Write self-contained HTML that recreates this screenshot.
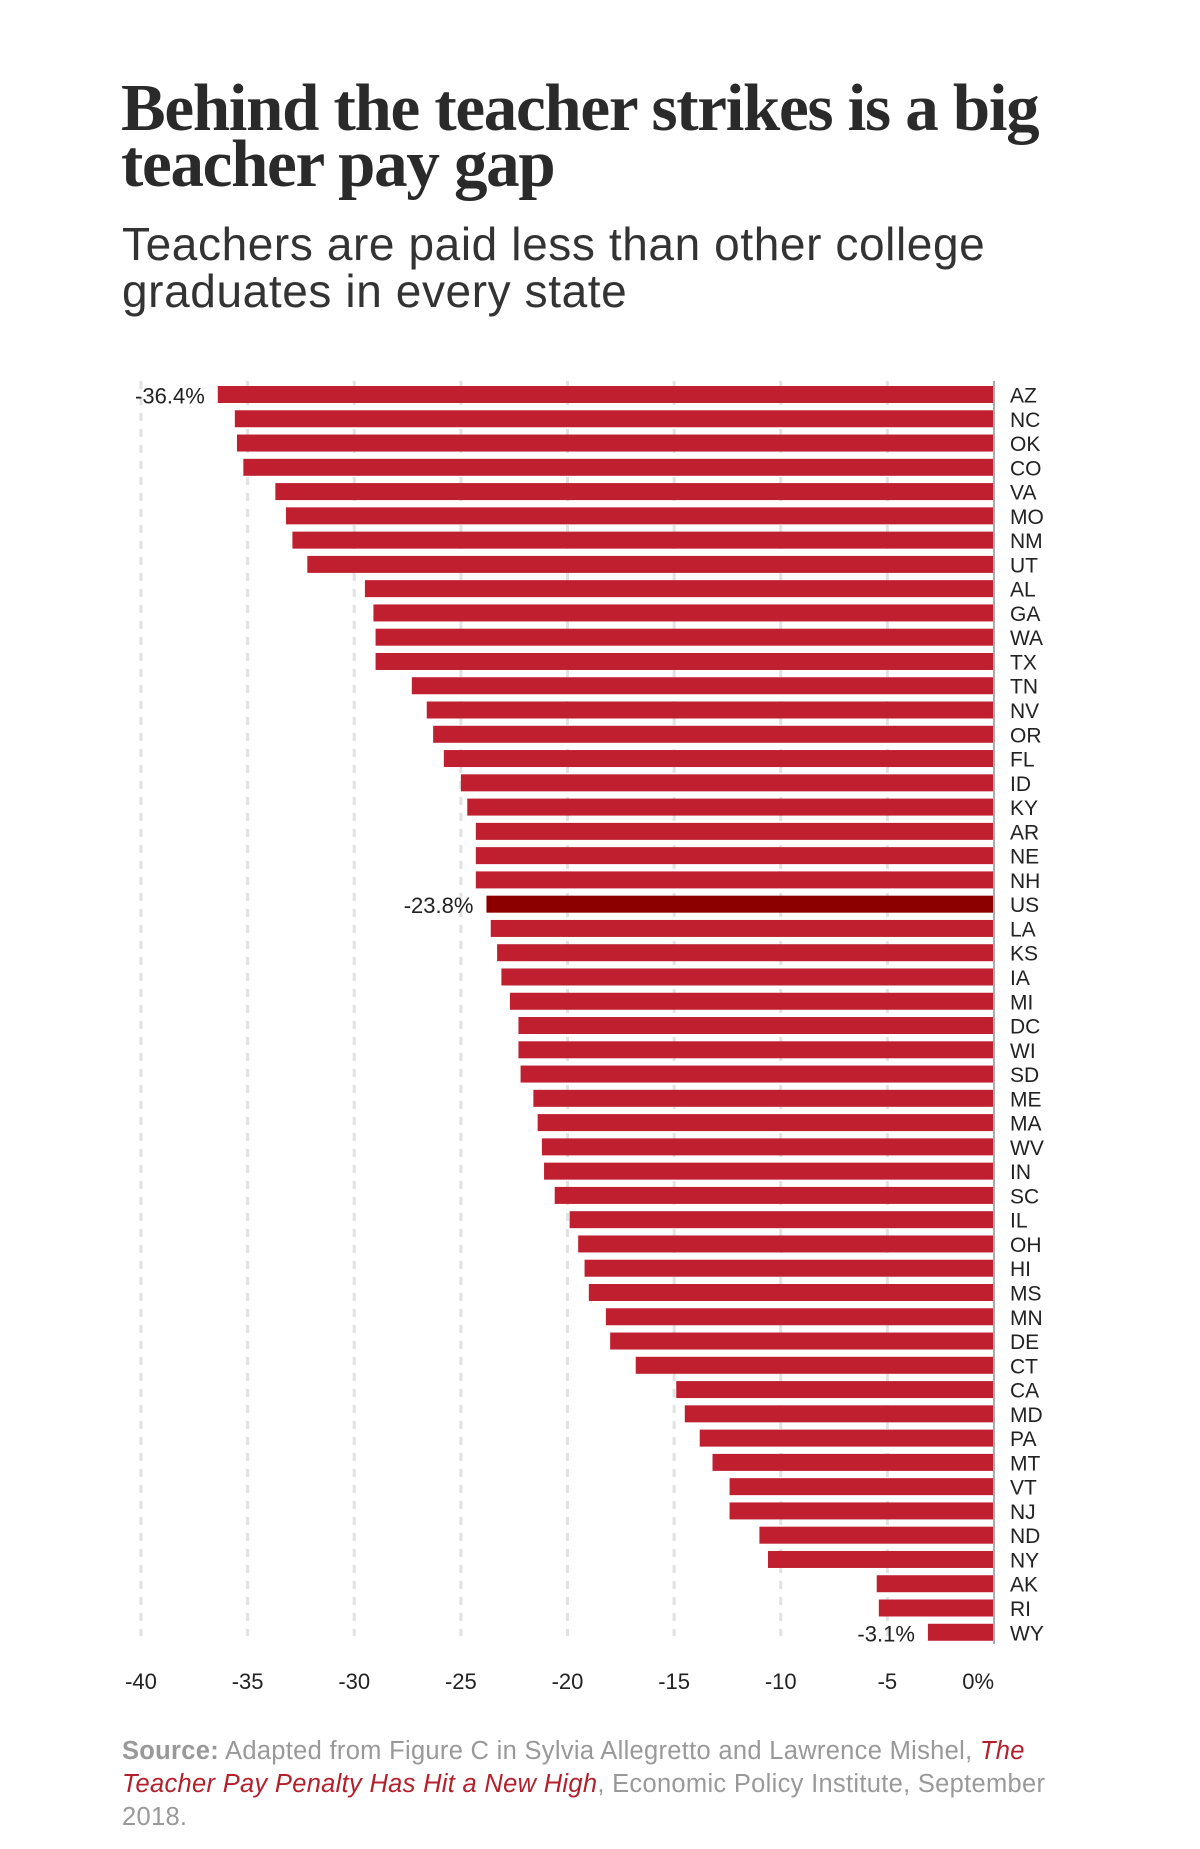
<!DOCTYPE html>
<html><head><meta charset="utf-8">
<style>
body{margin:0;background:#fff;width:1200px;height:1849px;overflow:hidden;font-family:"Liberation Sans",sans-serif}
#title{position:absolute;left:121px;top:80px;margin:0;font-family:"Liberation Serif",serif;font-weight:bold;font-size:67px;line-height:56px;color:#2a2a2a;letter-spacing:-1.3px;white-space:nowrap}
#subtitle{position:absolute;left:122px;top:221px;margin:0;font-size:46px;line-height:47px;color:#333;font-weight:normal;letter-spacing:0.6px;white-space:nowrap}
#source{position:absolute;left:122px;top:1735px;font-size:25.5px;line-height:33px;color:#999;white-space:nowrap;letter-spacing:0.3px}
#source b{color:#999}
#source i{color:#b3202c}
</style></head><body>
<h1 id="title">Behind the teacher strikes is a big<br>teacher pay gap</h1>
<h2 id="subtitle">Teachers are paid less than other college<br>graduates in every state</h2>
<svg id="chart" width="1200" height="1849" style="position:absolute;left:0;top:0"></svg>
<div id="source"><b>Source:</b> Adapted from Figure C in Sylvia Allegretto and Lawrence Mishel, <i>The<br>Teacher Pay Penalty Has Hit a New High</i>, Economic Policy Institute, September<br>2018.</div>
<script>
const states=["AZ","NC","OK","CO","VA","MO","NM","UT","AL","GA","WA","TX","TN","NV","OR","FL","ID","KY","AR","NE","NH","US","LA","KS","IA","MI","DC","WI","SD","ME","MA","WV","IN","SC","IL","OH","HI","MS","MN","DE","CT","CA","MD","PA","MT","VT","NJ","ND","NY","AK","RI","WY"];
const values=[-36.4,-35.6,-35.5,-35.2,-33.7,-33.2,-32.9,-32.2,-29.5,-29.1,-29.0,-29.0,-27.3,-26.6,-26.3,-25.8,-25.0,-24.7,-24.3,-24.3,-24.3,-23.8,-23.6,-23.3,-23.1,-22.7,-22.3,-22.3,-22.2,-21.6,-21.4,-21.2,-21.1,-20.6,-19.9,-19.5,-19.2,-19.0,-18.2,-18.0,-16.8,-14.9,-14.5,-13.8,-13.2,-12.4,-12.4,-11.0,-10.6,-5.5,-5.4,-3.1];
const ticks=[-40,-35,-30,-25,-20,-15,-10,-5,0];
const tickLabels=["-40","-35","-30","-25","-20","-15","-10","-5","0%"];
const labeled=["AZ","US","WY"];
const NS="http://www.w3.org/2000/svg";
const svg=document.getElementById('chart');
const x0=994,x40=141;
function x(v){return x0+(v/40)*(x0-x40);}
const top0=386,pitch=24.27,bh=17;
function y(i){return top0+i*pitch;}
function mk(t,a){const e=document.createElementNS(NS,t);for(const k in a)e.setAttribute(k,a[k]);svg.appendChild(e);return e;}
ticks.forEach((t,i)=>{
  if(t!==0){
    const g=mk('line',{x1:x(t),x2:x(t),y1:381,y2:1636,stroke:'#e2e2e2','stroke-width':3,'stroke-dasharray':'8 8'});
    
    
  }
  const tl=mk('text',{x:x(t),y:1689,'font-size':22,fill:'#222','text-anchor':t===0?'end':'middle','font-family':'Liberation Sans, sans-serif'});
  tl.textContent=tickLabels[i];
  
  
});
states.forEach((s,i)=>{
  const v=values[i];
  const r=mk('rect',{x:x(v),y:y(i),width:x(0)-x(v),height:bh,fill:s==='US'?'#8c0000':'#c01f30'});
  
  
  const l=mk('text',{x:1010,y:y(i)+bh/2+8,'font-size':21,fill:'#222','font-family':'Liberation Sans, sans-serif'});
  l.textContent=s;
  
  
  if(labeled.includes(s)){
    const vl=mk('text',{x:x(v)-13,y:y(i)+bh/2+9,'font-size':22,fill:'#222','text-anchor':'end','font-family':'Liberation Sans, sans-serif'});
    vl.textContent=v.toFixed(1)+'%';
    
    
  }
});
const ax=mk('line',{x1:x0,x2:x0,y1:381,y2:1644,stroke:'#aaa','stroke-width':2});


</script>
</body></html>
